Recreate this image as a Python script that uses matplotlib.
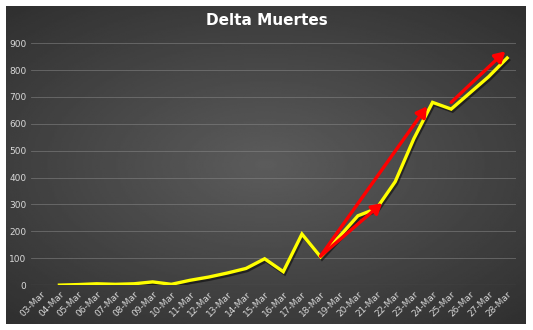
import numpy as np
import matplotlib
matplotlib.use('Agg')
import matplotlib.pyplot as plt
import matplotlib.patheffects as pe

fechas = ['03-Mar', '04-Mar', '05-Mar', '06-Mar', '07-Mar', '08-Mar', '09-Mar',
          '10-Mar', '11-Mar', '12-Mar', '13-Mar', '14-Mar', '15-Mar', '16-Mar',
          '17-Mar', '18-Mar', '19-Mar', '20-Mar', '21-Mar', '22-Mar', '23-Mar',
          '24-Mar', '25-Mar', '26-Mar', '27-Mar', '28-Mar']
delta_muertes = [np.nan, 0, 2, 5, 3, 5, 12, 3, 18, 30, 45, 62, 98, 50,
                 190, 105, 180, 258, 285, 385, 545, 680, 655, 715, 775, 845]

# flechas de tendencia (inicio, fin) en coordenadas de categoria / valor
flechas = [((15, 108), (18.3, 305)),
           ((15, 108), (20.7, 665)),
           ((22.0, 680), (24.9, 870))]
yticks = list(range(0, 1000, 100))

fig = plt.figure(figsize=(5.33, 3.30), dpi=100)
fig.patch.set_facecolor('white')

# fondo con degradado radial
bg = fig.add_axes([0.012, 0.018, 0.975, 0.965])
yy, xx = np.mgrid[-1:1:200j, -1:1:300j]
r = np.sqrt((xx / 1.1) ** 2 + (yy / 1.0) ** 2)
bg.imshow(0.36 - 0.18 * np.clip(r, 0, 1.4) / 1.4, cmap='gray', vmin=0, vmax=1,
          aspect='auto', extent=[0, 1, 0, 1])
bg.axis('off')

ax = fig.add_axes([0.059, 0.136, 0.91, 0.733])
ax.patch.set_alpha(0)
x = np.arange(len(fechas))
ax.plot(x, delta_muertes, color='#ffff00', lw=2.4, solid_joinstyle='miter',
        path_effects=[pe.SimpleLineShadow(offset=(1, -1.5), alpha=0.5), pe.Normal()])

for (x0, y0), (x1, y1) in flechas:
    ax.annotate('', xy=(x1, y1), xytext=(x0, y0),
                arrowprops=dict(arrowstyle='-|>,head_length=0.6,head_width=0.35',
                                color='#ff0000', lw=2.4, shrinkA=0, shrinkB=0))

ax.set_xlim(-0.5, len(fechas) - 0.5)
ax.set_ylim(0, 900)
ax.set_yticks(yticks)
ax.set_xticks(x)
ax.set_xticklabels(fechas, rotation=45, ha='right', rotation_mode='anchor')
ax.tick_params(axis='both', length=0, colors='#d9d9d9', labelsize=6.5)
ax.tick_params(axis='x', pad=3)
ax.grid(axis='y', color='#8a8a8a', lw=0.6, alpha=0.6)
ax.set_axisbelow(True)
for s in ax.spines.values():
    s.set_visible(False)
ax.axhline(0, color='#8a8a8a', lw=0.8, alpha=0.7, zorder=0)

fig.text(0.5, 0.938, 'Delta Muertes', ha='center', va='center',
         fontsize=11, fontweight='bold', color='white')

fig.savefig('out.png', dpi=100, facecolor=fig.get_facecolor())
